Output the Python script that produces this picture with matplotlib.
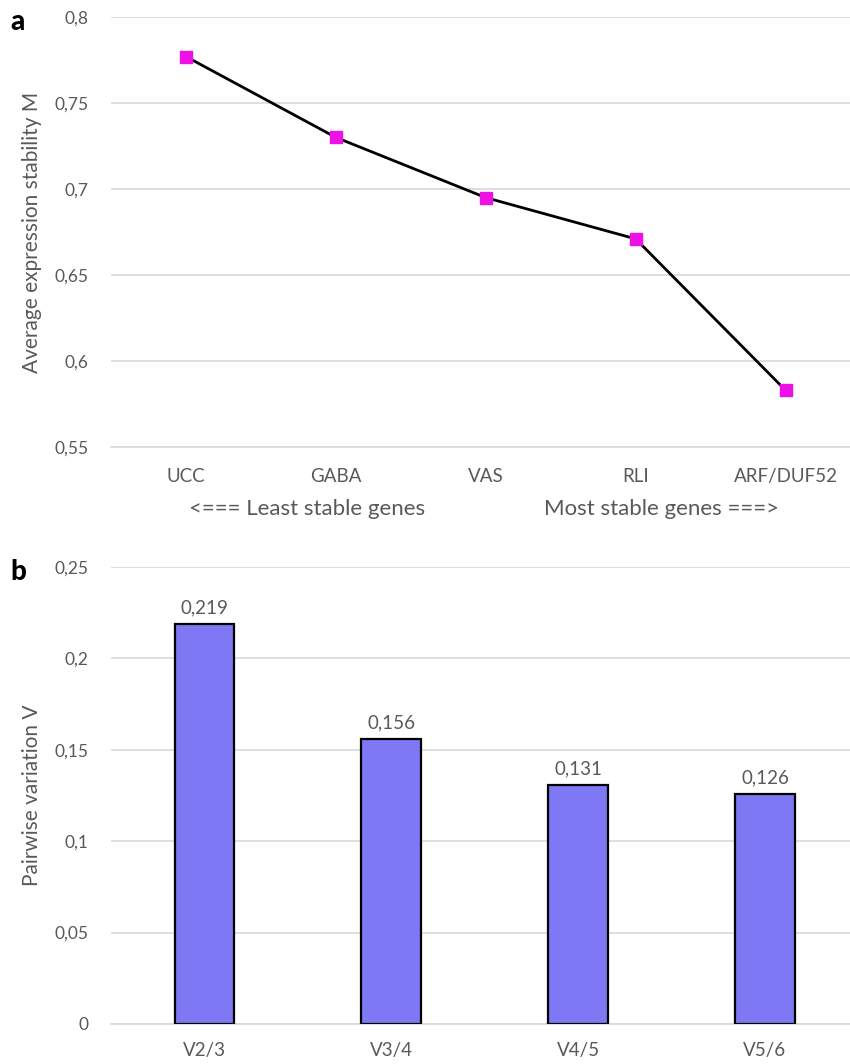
import matplotlib
matplotlib.use("Agg")
import matplotlib.pyplot as plt
from matplotlib.ticker import FuncFormatter, MultipleLocator
import matplotlib.transforms as mtransforms

# Gene stability (geNorm M values)
genes = ["UCC", "GABA", "VAS", "RLI", "ARF/DUF52"]
m_values = [0.777, 0.730, 0.695, 0.671, 0.583]

# Pairwise variation
pairs = ["V2/3", "V3/4", "V4/5", "V5/6"]
v_values = [0.219, 0.156, 0.131, 0.126]

plt.rcParams["font.family"] = ["Lato", "DejaVu Sans"]
TXT = "#595959"
GRID = "#D9D9D9"


def comma(x, pos=None):
    s = f"{x:.3f}".rstrip("0").rstrip(".")
    return s.replace(".", ",")


fig = plt.figure(figsize=(8.5, 10.64), dpi=100)

# ---- panel a ----
ax1 = fig.add_axes([0.1306, 0.5799, 0.8694, 0.4041])
x1 = list(range(len(genes)))
ax1.plot(x1, m_values, color="black", lw=2.0, zorder=3)
ax1.plot(x1, m_values, ls="none", marker="s", ms=9, color="#EE11E6",
         markeredgecolor="#EE11E6", zorder=4)
ax1.set_ylim(0.55, 0.8)
ax1.set_xlim(-0.5, 4.43)
ax1.yaxis.set_major_locator(MultipleLocator(0.05))
ax1.yaxis.set_major_formatter(FuncFormatter(comma))
ax1.set_xticks(x1)
ax1.set_xticklabels(genes)
ax1.grid(axis="y", color=GRID, lw=1.2)
ax1.set_axisbelow(True)
for s in ["left", "right", "top"]:
    ax1.spines[s].set_visible(False)
ax1.spines["bottom"].set_color(GRID)
ax1.spines["bottom"].set_linewidth(1.2)
ax1.tick_params(axis="both", length=0, colors=TXT)
ax1.tick_params(axis="y", pad=16, labelsize=12.5)
ax1.tick_params(axis="x", pad=15, labelsize=13.5)
ax1.set_ylabel("Average expression stability M", fontsize=15, color=TXT, labelpad=9)
trans = mtransforms.blended_transform_factory(ax1.transData, ax1.transAxes)
ax1.text(0.81, -0.145, "<=== Least stable genes", transform=trans, ha="center",
         va="center", fontsize=16, color=TXT)
ax1.text(3.17, -0.145, "Most stable genes ===>", transform=trans, ha="center",
         va="center", fontsize=16, color=TXT)
fig.text(0.021, 0.979, "a", fontsize=20, fontweight="black", ha="center", va="center")

# ---- panel b ----
ax2 = fig.add_axes([0.1306, 0.0376, 0.8694, 0.4295])
x2 = list(range(len(pairs)))
bars = ax2.bar(x2, v_values, width=0.32, color="#7F78F4", edgecolor="black",
               linewidth=1.6, zorder=3)
for xi, v in zip(x2, v_values):
    ax2.text(xi, v + 0.004, comma(v), ha="center", va="bottom", fontsize=13.5, color=TXT)
ax2.set_ylim(0, 0.25)
ax2.set_xlim(-0.5, 3.455)
ax2.yaxis.set_major_locator(MultipleLocator(0.05))
ax2.yaxis.set_major_formatter(FuncFormatter(comma))
ax2.set_xticks(x2)
ax2.set_xticklabels(pairs)
ax2.grid(axis="y", color=GRID, lw=1.2)
ax2.set_axisbelow(True)
for s in ["left", "right", "top"]:
    ax2.spines[s].set_visible(False)
ax2.spines["bottom"].set_color(GRID)
ax2.spines["bottom"].set_linewidth(1.2)
ax2.tick_params(axis="both", length=0, colors=TXT)
ax2.tick_params(axis="y", pad=16, labelsize=12.5)
ax2.tick_params(axis="x", pad=13, labelsize=13.5)
ax2.set_ylabel("Pairwise variation V", fontsize=15, color=TXT, labelpad=9)
fig.text(0.021, 0.462, "b", fontsize=20, fontweight="black", ha="center", va="center")

fig.savefig("out.png", dpi=100)
